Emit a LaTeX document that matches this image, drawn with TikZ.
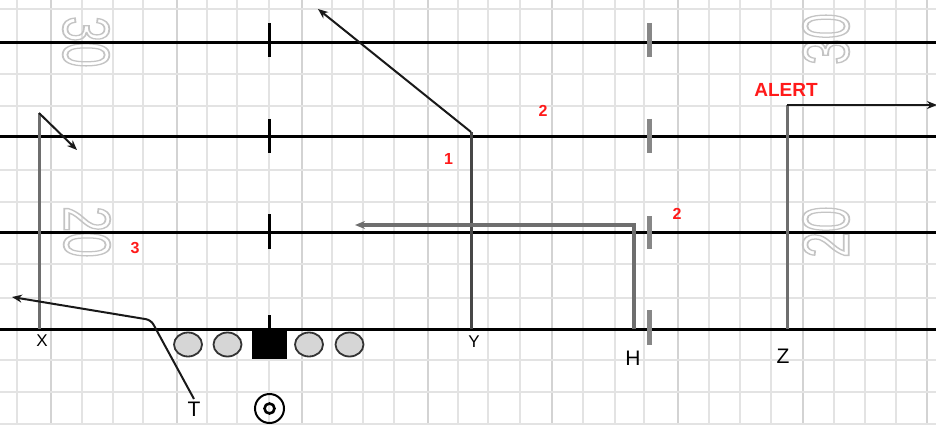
\documentclass[tikz,border=0pt]{standalone}
\usepackage{fontspec}
\setmainfont{Liberation Sans}
\usetikzlibrary{arrows.meta,shapes.geometric}
\definecolor{gridc}{HTML}{E3E3E3}
\definecolor{gridd}{HTML}{D3D3D3}
\definecolor{yardc}{HTML}{C4C4C4}
\definecolor{routeg}{HTML}{6E6E6E}
\definecolor{routed}{HTML}{474747}
\definecolor{redl}{HTML}{FF1A1A}
\definecolor{hashg}{HTML}{878787}
\definecolor{linefill}{HTML}{D6D6D6}
\newcommand{\outlinetext}[1]{\special{pdf:literal direct 1 Tr 1.8 w}#1\special{pdf:literal direct 0 Tr}}
\tikzset{
  gridl/.style={draw=gridc, line width=2.4pt},
  gridD/.style={draw=gridd, line width=2.4pt},
  yardline/.style={draw=black, line width=3pt},
  hashl/.style={draw=black, line width=3pt},
  hashr/.style={draw=hashg, line width=5pt},
  routegray/.style={draw=routeg, line width=3pt},
  routedark/.style={draw=routed, line width=3pt},
  routeblk/.style={draw=black!90, line width=2pt},
  arrowtip/.style={-{Stealth[length=10pt,width=8pt]}},
  yardnum/.style={text=yardc, inner sep=0pt, font=\fontsize{66}{66}\selectfont},
  lineman/.style={ellipse, draw=black!80, fill=linefill, line width=1.8pt, minimum width=28pt, minimum height=24pt, inner sep=0pt},
  centerman/.style={rectangle, fill=black, minimum width=35pt, minimum height=30pt, inner sep=0pt},
  qbouter/.style={circle, draw=black, line width=2pt, minimum size=29pt, inner sep=0pt},
  qbinner/.style={circle, draw=black, line width=2.6pt, minimum size=10pt, inner sep=0pt},
  lblsmall/.style={inner sep=0pt, font=\fontsize{17}{17}\selectfont},
  lblbig/.style={inner sep=0pt, font=\fontsize{21}{21}\selectfont},
  redlbl/.style={inner sep=0pt, text=redl, font=\bfseries\fontsize{16}{16}\selectfont},
}
\begin{document}
\begin{tikzpicture}[x=1pt,y=-1pt]
\useasboundingbox (0,0) rectangle (936,425);
\fill[white] (0,0) rectangle (936,425);
% grid
\foreach \x in {17,82,113,143,207,237,269,332,363,394,458,488,520,583,615,644,709,740,771,834,865,896}
  \draw[gridl] (\x,0) -- (\x,425);
\foreach \x in {51,177,302,428,552,678,803,927}
  \draw[gridD] (\x,0) -- (\x,425);
\foreach \y in {9,74,106,170,202,264,298,360,392,424}
  \draw[gridl] (0,\y) -- (936,\y);
% yard numbers
\node[yardnum, rotate=-90] (n30l) at (86,42) {\scalebox{0.7}[1]{\outlinetext{30}}};
\node[yardnum, rotate=-90] (n20l) at (87,232) {\scalebox{0.7}[1]{\outlinetext{20}}};
\node[yardnum, rotate=90] (n30r) at (826,39) {\scalebox{0.7}[1]{\outlinetext{30}}};
\node[yardnum, rotate=90] (n20r) at (826,232) {\scalebox{0.7}[1]{\outlinetext{20}}};
% yard lines
\foreach \y in {43,136,232,329}
  \draw[yardline] (0,\y) -- (936,\y);
% hash marks
\foreach \a/\b in {23/57,119/153,214/249,315/329}
  \draw[hashl] (269,\a) -- (269,\b);
\foreach \a/\b in {23/57,119/153,216/249,310/345}
  \draw[hashr] (649,\a) -- (649,\b);
% route points
\coordinate (xs) at (39,329);
\coordinate (xc) at (39,113);
\coordinate (xe) at (77,150);
\coordinate (ts) at (194,399);
\coordinate (tc) at (151,320);
\coordinate (te) at (12,297);
\coordinate (ys) at (471,329);
\coordinate (yc) at (471,132);
\coordinate (ye) at (318,9);
\coordinate (hs) at (634,329);
\coordinate (hc) at (634,225);
\coordinate (he) at (355,225);
\coordinate (zs) at (787,329);
\coordinate (zc) at (787,105);
\coordinate (ze) at (937,105);
% routes
\draw[routegray] (xs) -- (xc);
\draw[routeblk, arrowtip] (xc) -- (xe);
\draw[routeblk, arrowtip, rounded corners=5pt] (ts) -- (tc) -- (te);
\draw[routedark] (ys) -- (yc);
\draw[routeblk, arrowtip] (yc) -- (ye);
\draw[routegray, line width=3.6pt, arrowtip] (hs) -- (hc) -- (he);
\draw[routegray] (zs) -- (zc);
\draw[routeblk, line width=2.6pt, arrowtip] (zc) -- (ze);
% players
\node[lineman] (lt) at (188,344.5) {};
\node[lineman] (lg) at (227.5,344.5) {};
\node[centerman] (c) at (269.5,344) {};
\node[lineman] (rg) at (309,344.5) {};
\node[lineman] (rt) at (349.5,344.5) {};
\node[qbouter] (qb) at (269.5,408.5) {};
\node[qbinner] (qbi) at (269.5,408.5) {};
% labels
\node[lblsmall] (xl) at (42,341) {X};
\node[lblsmall] (yl) at (474,342) {Y};
\node[lblbig] (hl) at (633,358) {H};
\node[lblbig] (zl) at (783,356) {Z};
\node[lblbig] (tl) at (194,409) {T};
\node[redlbl, font=\bfseries\fontsize{19}{19}\selectfont] (alert) at (786,90) {ALERT};
\node[redlbl] (r1) at (448.5,158.5) {1};
\node[redlbl] (r2a) at (543,111) {2};
\node[redlbl] (r2b) at (677,214) {2};
\node[redlbl] (r3) at (135,248) {3};
\end{tikzpicture}
\end{document}
